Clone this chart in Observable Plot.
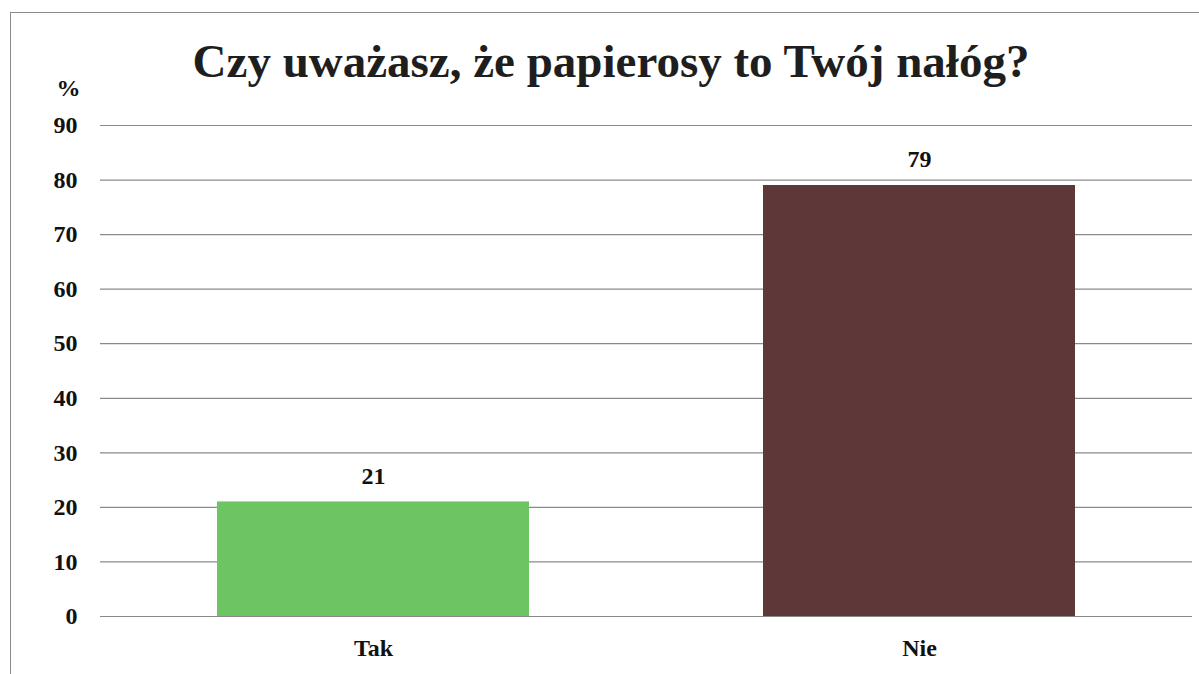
<!DOCTYPE html>
<html>
<head>
<meta charset="utf-8">
<script src="https://cdn.jsdelivr.net/npm/d3@7"></script>
<script src="https://cdn.jsdelivr.net/npm/@observablehq/plot@0.6"></script>
<style>
  html, body { margin: 0; padding: 0; background: #fff; }
  #wrap { position: relative; width: 1199px; height: 674px; overflow: hidden; font-family: "Liberation Serif", "Times New Roman", serif; }
  #frame { position: absolute; left: 10px; top: 12px; width: 1300px; height: 800px; border-left: 1px solid #8a8a8a; border-top: 1px solid #8a8a8a; }
  #title { position: absolute; left: 0; width: 1222px; top: 33px; text-align: center; font-size: 47px; font-weight: bold; color: #1e1e1e; line-height: 56px; }
  #chart { position: absolute; left: 0; top: 0; }
</style>
</head>
<body>
<div id="wrap">
  <div id="frame"></div>
  <div id="title">Czy uważasz, że papierosy to Twój nałóg?</div>
  <div id="chart"></div>
</div>
<script>
const categories = ["Tak", "Nie"];
const values = [21, 79];
const colors = ["#6cc562", "#5e3838"];
const yTicks = [0, 10, 20, 30, 40, 50, 60, 70, 80, 90];
const yLabel = "%";

const data = categories.map((c, i) => ({category: c, value: values[i], color: colors[i]}));

const font = "Liberation Serif, Times New Roman, serif";

const plot = Plot.plot({
  width: 1199,
  height: 674,
  marginTop: 125,
  marginBottom: 58,
  marginLeft: 100,
  marginRight: 7,
  style: {fontFamily: font, background: "transparent", color: "#111"},
  x: {domain: categories, paddingInner: 0.4286, paddingOuter: 0.2143, label: null},
  y: {domain: [0, 90], label: null},
  marks: [
    Plot.gridY(yTicks, {stroke: "#8a8a8a", strokeOpacity: 1, strokeWidth: 1.2}),
    Plot.barY(data, {x: "category", y: "value", fill: "color"}),
    Plot.text(data, {x: "category", y: "value", text: d => String(d.value), dy: -26, lineAnchor: "middle", fontSize: 24, fontWeight: "bold", fill: "#111"}),
    Plot.axisY({ticks: yTicks, tickSize: 0, tickPadding: 23, fontSize: 24, fontWeight: "bold", label: null}),
    Plot.axisX({tickSize: 0, tickPadding: 22, fontSize: 24, fontWeight: "bold", label: null}),
    Plot.text([yLabel], {text: d => d, frameAnchor: "top-left", dx: -32, dy: -37, textAnchor: "middle", lineAnchor: "middle", fontSize: 24, fontWeight: "bold", fill: "#111"})
  ]
});
document.getElementById("chart").appendChild(plot);
</script>
</body>
</html>
